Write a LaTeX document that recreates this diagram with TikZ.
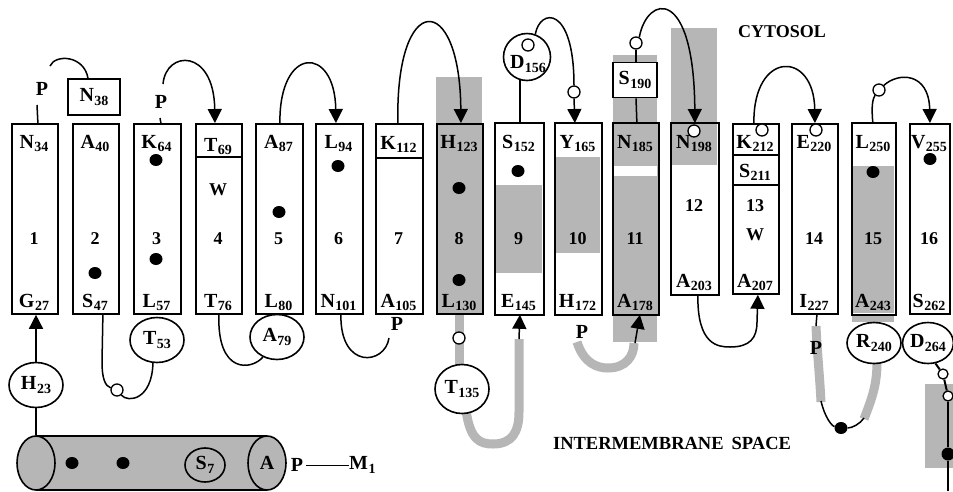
\documentclass[tikz,border=0pt]{standalone}
\usepackage{fontspec}
\setmainfont{Liberation Serif}
\usetikzlibrary{arrows.meta,shapes.geometric,calc}
\definecolor{memgray}{RGB}{182,182,182}
% residue label: letter with a lowered, smaller position number
\newcommand\resl[2]{#1\kern0.5pt\raisebox{-3.5pt}{\fontsize{14}{14}\selectfont #2}}
\begin{document}
\begin{tikzpicture}[x=1pt,y=-1pt,
  tmbox/.style={draw, line width=1.8pt, fill=white, inner sep=0pt, anchor=north west},
  tmopen/.style={tmbox, draw=none},
  lab/.style={font=\fontsize{20}{20}\selectfont\bfseries, inner sep=0pt},
  num/.style={font=\fontsize{18}{18}\selectfont\bfseries, inner sep=0pt, anchor=base},
  ring/.style={ellipse, draw, line width=1.6pt, fill=white, minimum width=54pt, minimum height=45pt, inner sep=0pt, font=\fontsize{20}{20}\selectfont\bfseries},
  lbox/.style={draw, line width=1.6pt, fill=white, inner sep=0pt, font=\fontsize{20}{20}\selectfont\bfseries},
  smallc/.style={circle, draw, line width=1.3pt, fill=white, minimum size=12pt, inner sep=0pt},
  dotb/.style={ellipse, fill=black, minimum width=13pt, minimum height=12pt, inner sep=0pt},
  conn/.style={line width=1.5pt},
  arr/.style={conn, -{Triangle[length=14pt,width=14pt]}},
  gline/.style={line width=9pt, draw=memgray},
  toplab/.style={lab, anchor=base},
]
\useasboundingbox (0,0) rectangle (953,491);
\fill[white] (0,0) rectangle (953,491);

% ---- grey regions outside the helices
\fill[memgray] (436,77) rectangle (482,123);
\fill[memgray] (613,55) rectangle (657,123);
\fill[memgray] (671,28) rectangle (717,123);
\fill[memgray] (613,313) rectangle (657,342);
\fill[memgray] (852,313) rectangle (894,322);
\fill[memgray] (925,384) rectangle (953,468);

% ---- thick grey loop segments
\draw[gline] (459,313) -- (459,366);
\draw[gline] (466,410) .. controls (470,440) and (480,444) .. (493,444) .. controls (512,444) and (519,432) .. (519,412) -- (519,339);
\draw[gline] (577,342) .. controls (584,364) and (598,368) .. (608,368) .. controls (626,368) and (634,356) .. (634,343);
\draw[gline] (816,326) .. controls (817,350) and (820,380) .. (821,402);
\draw[gline] (864,419) .. controls (872,398) and (877,385) .. (877,362);

% ---- transmembrane helices
\node[tmbox, minimum width=46pt, minimum height=190pt] (t1) at (11,123) {};
\node[tmbox, minimum width=46pt, minimum height=190pt] (t2) at (72,123) {};
\node[tmbox, minimum width=47pt, minimum height=190pt] (t3) at (133,123) {};
\node[tmbox, minimum width=46pt, minimum height=190pt] (t4) at (195,123) {};
\node[tmbox, minimum width=47pt, minimum height=190pt] (t5) at (255,123) {};
\node[tmbox, minimum width=47pt, minimum height=190pt] (t6) at (315,123) {};
\node[tmbox, minimum width=47pt, minimum height=190pt] (t7) at (375,123) {};
\node[tmbox, fill=memgray, minimum width=46pt, minimum height=190pt] (t8) at (436,123) {};
\node[tmopen, minimum width=47pt, minimum height=190pt] (t9) at (495,123) {};
\node[tmopen, minimum width=45pt, minimum height=190pt] (t10) at (555,123) {};
\node[tmopen, fill=memgray, minimum width=44pt, minimum height=190pt] (t11) at (613,123) {};
\node[tmopen, minimum width=46pt, minimum height=170pt] (t12) at (671,123) {};
\node[tmbox, minimum width=46pt, minimum height=170pt] (t13) at (732,123) {};
\node[tmbox, minimum width=46pt, minimum height=190pt] (t14) at (791,123) {};
\node[tmopen, minimum width=42pt, minimum height=190pt] (t15) at (852,123) {};
\node[tmbox, minimum width=40pt, minimum height=190pt] (t16) at (909,123) {};

% grey parts inside helices, then their outlines
\fill[memgray] (495,185) rectangle (542,273);
\fill[memgray] (555,157) rectangle (600,253);
\fill[white] (613,166) rectangle (657,176);
\fill[memgray] (671,123) rectangle (717,165);
\fill[memgray] (852,166) rectangle (894,313);
\foreach \n in {t9,t10,t11,t12,t15}
  \draw[line width=1.8pt] (\n.north west) rectangle (\n.south east);

% dividing lines
\draw[line width=1.6pt] ($(t4.north west)+(0,34)$) -- ($(t4.north east)+(0,34)$);
\draw[line width=1.6pt] ($(t7.north west)+(0,35)$) -- ($(t7.north east)+(0,35)$);
\draw[line width=1.6pt] ($(t13.north west)+(0,32)$) -- ($(t13.north east)+(0,32)$);
\draw[line width=1.6pt] ($(t13.north west)+(0,62)$) -- ($(t13.north east)+(0,62)$);

% ---- residue labels, top ends
\node[toplab] (a34) at (34,148) {\resl{N}{34}};
\node[toplab] (a40) at (95,148) {\resl{A}{40}};
\node[toplab] (a64) at (156.5,148) {\resl{K}{64}};
\node[toplab] (a69) at (218,151) {\resl{T}{69}};
\node[toplab] (a87) at (278.5,148) {\resl{A}{87}};
\node[toplab] (a94) at (338.5,148) {\resl{L}{94}};
\node[toplab] (a112) at (398.5,149) {\resl{K}{112}};
\node[toplab] (a123) at (459,148) {\resl{H}{123}};
\node[toplab] (a152) at (518.5,148) {\resl{S}{152}};
\node[toplab] (a165) at (577.5,148) {\resl{Y}{165}};
\node[toplab] (a185) at (635,148) {\resl{N}{185}};
\node[toplab] (a198) at (694,148) {\resl{N}{198}};
\node[toplab] (a212) at (755,148) {\resl{K}{212}};
\node[toplab] (a211) at (755,177) {\resl{S}{211}};
\node[toplab] (a220) at (814,148) {\resl{E}{220}};
\node[toplab] (a250) at (873,148) {\resl{L}{250}};
\node[toplab] (a255) at (929,148) {\resl{V}{255}};

% ---- residue labels, bottom ends
\node[toplab] (b27) at (34,307) {\resl{G}{27}};
\node[toplab] (b47) at (95,307) {\resl{S}{47}};
\node[toplab] (b57) at (156.5,307) {\resl{L}{57}};
\node[toplab] (b76) at (218,307) {\resl{T}{76}};
\node[toplab] (b80) at (278.5,307) {\resl{L}{80}};
\node[toplab] (b101) at (338.5,307) {\resl{N}{101}};
\node[toplab] (b105) at (398.5,307) {\resl{A}{105}};
\node[toplab] (b130) at (459,307) {\resl{L}{130}};
\node[toplab] (b145) at (518.5,307) {\resl{E}{145}};
\node[toplab] (b172) at (577.5,307) {\resl{H}{172}};
\node[toplab] (b178) at (635,307) {\resl{A}{178}};
\node[toplab] (b203) at (694,287) {\resl{A}{203}};
\node[toplab] (b207) at (755,287) {\resl{A}{207}};
\node[toplab] (b227) at (814,307) {\resl{I}{227}};
\node[toplab] (b243) at (873,307) {\resl{A}{243}};
\node[toplab] (b262) at (929,307) {\resl{S}{262}};

% ---- helix numbers and tryptophans
\node[num] (n1) at (34,244) {1};
\node[num] (n2) at (95,244) {2};
\node[num] (n3) at (156.5,244) {3};
\node[num] (n4) at (218,244) {4};
\node[num] (n5) at (278.5,244) {5};
\node[num] (n6) at (338.5,244) {6};
\node[num] (n7) at (398.5,244) {7};
\node[num] (n8) at (459,244) {8};
\node[num] (n9) at (518.5,244) {9};
\node[num] (n10) at (577.5,244) {10};
\node[num] (n11) at (635,244) {11};
\node[num] (n12) at (694,211) {12};
\node[num] (n13) at (755,211) {13};
\node[num] (n14) at (814,244) {14};
\node[num] (n15) at (873,244) {15};
\node[num] (n16) at (929,244) {16};
\node[num] (w4) at (218,195) {W};
\node[num] (w13) at (755,240) {W};

% ---- black dots
\node[dotb] (d2) at (95,273) {};
\node[dotb] (d3a) at (156,160) {};
\node[dotb] (d3b) at (156,259) {};
\node[dotb] (d5) at (279,212) {};
\node[dotb] (d6) at (338,166) {};
\node[dotb] (d8a) at (459,188) {};
\node[dotb] (d8b) at (459,280) {};
\node[dotb] (d9) at (518,171) {};
\node[dotb] (d15) at (873,172) {};
\node[dotb] (d16) at (930,159) {};

% ---- open circles at helix tops
\node[smallc] (c198) at (694,131) {};
\node[smallc] (c212) at (762,130) {};
\node[smallc] (c220) at (816,130) {};

% ---- cytosolic loops
\node[lab] (p1) at (42,89) {P};
\draw[conn] (37,105) -- ($(t1.north)+(3,0)$);
\node[lbox, minimum width=52pt, minimum height=36pt] (n38) at (94,97) {\resl{N}{38}};
\draw[conn] (50,66) .. controls (55,54) and (84,55) .. ($(n38.north)+(-6,0)$);

\node[lab] (p3) at (161,102) {P};
\draw[conn] (160,118) -- ($(t3.north)+(3.5,0)$);
\draw[arr] (163,84) .. controls (166,50) and (214,48) .. ($(t4.north)+(-4,0)$);

\draw[arr] ($(t5.north)+(0.5,0)$) .. controls (279,45) and (335,45) .. ($(t6.north)+(-3.5,0)$);
\draw[arr] ($(t7.north)+(-1.5,0)$) .. controls (395,-10) and (460,-10) .. ($(t8.north)+(1,0)$);

\node[ring, minimum width=47pt, minimum height=47pt] (d156) at (527,57) {};
\node[lab] (d156l) at (528,64) {\resl{D}{156}};
\node[smallc] (d156c) at (528,45) {};
\draw[conn] ($(t9.north)+(0.5,0)$) -- ($(t9.north)+(0.5,-43)$);
\node[smallc] (c165) at (574,92) {};
\draw[conn] (d156.70) .. controls (540,8) and (574,5) .. (c165.north);
\draw[arr] (c165.south) -- ($(t10.north)+(-3.5,0)$);

\node[lbox, minimum width=44pt, minimum height=35pt] (s190) at (635,80) {\resl{S}{190}};
\node[smallc] (c190) at (636,43) {};
\draw[conn] (c190) -- ($(s190.north)+(1,0)$);
\draw[conn] ($(s190.south)+(1,0)$) -- ($(t11.north)+(1,0)$);
\draw[arr] (c190.60) .. controls (647,-5) and (694,-15) .. (t12.north);

\draw[arr] ($(t13.north)+(-2,0)$) .. controls (753,50) and (814,50) .. (t14.north);

\node[smallc] (c250) at (879,90) {};
\draw[conn] ($(t15.north)+(-1,0)$) .. controls (871,106) and (873,98) .. (c250);
\draw[arr] (c250) .. controls (898,72) and (929,72) .. (t16.north);

% ---- intermembrane loops
\node[ring] (h23) at (36,385) {\resl{H}{23}};
\draw[arr] (h23.north) -- (h23.north |- t1.south);

\node[ring] (t53) at (157,340) {\resl{T}{53}};
\node[smallc] (c47) at (117,390) {};
\draw[conn] ($(t2.south)+(7,0)$) -- (102,362) .. controls (102,378) and (105,386) .. (c47);
\draw[conn] (c47) .. controls (128,403) and (152,400) .. (t53.-100);

\node[ring] (a79) at (277,337) {\resl{A}{79}};
\draw[conn] (t4.south) .. controls (217,375) and (252,370) .. (a79.-125);

\node[lab] (p105) at (397,324) {P};
\draw[conn] ($(t6.south)+(1.5,0)$) .. controls (340,370) and (385,365) .. (389,338);

\node[smallc] (c130) at (459,338) {};
\node[ring, minimum height=49pt] (t135) at (462,389) {\resl{T}{135}};
\draw[arr] (519,339) -- ($(t9.south)+(0.5,0)$);

\node[lab] (p172) at (582,332) {P};
\draw[arr] (635,343) -- ($(t11.south)+(4,0)$);

\draw[arr] ($(t12.south)+(3,0)$) .. controls (697,345) and (718,347) .. (730,347) .. controls (750,347) and (757,338) .. (757,322) -- ($(t13.south)+(2,0)$);

\draw[conn] ($(t14.south)+(2,0)$) -- (816,326);
\node[lab] (p227) at (816,348) {P};
\node[dotb] (dot240) at (841,428) {};
\draw[conn] (821,401) .. controls (825,418) and (832,426) .. (dot240);
\draw[conn] (dot240) .. controls (852,428) and (860,424) .. (864,418);
\node[ring, minimum height=41pt] (r240) at (874,343) {\resl{R}{240}};

\node[ring, minimum width=50pt, minimum height=41pt] (d264) at (928,343) {\resl{D}{264}};
\node[smallc, minimum size=10pt] (c264a) at (943,374) {};
\node[smallc, minimum size=10pt] (c264b) at (948,396) {};
\node[dotb, minimum width=13pt, minimum height=13pt] (dot264) at (948,454) {};
\coordinate (tailend) at (948,491);
\draw[line width=2pt] (d264.-70) -- (c264a);
\draw[line width=2pt] (c264a) -- (c264b);
\draw[line width=2pt] (c264b) -- (dot264) -- (tailend);

% ---- N-terminal amphipathic helix
\fill[memgray] (36,436) rectangle (267,490);
\draw[line width=1.6pt] (36,436) -- (267,436) (36,490) -- (267,490);
\node[ellipse, draw, line width=1.6pt, fill=memgray, minimum width=38pt, minimum height=54pt, inner sep=0pt] (capl) at (36,463) {};
\node[ellipse, draw, line width=1.6pt, fill=memgray, minimum width=38pt, minimum height=54pt, inner sep=0pt, font=\fontsize{20}{20}\selectfont\bfseries] (capr) at (267,463) {A};
\draw[conn] (h23.south) -- (h23.south |- capl.north);
\node[dotb] (cd1) at (72,463) {};
\node[dotb] (cd2) at (123,463) {};
\node[ring, fill=memgray, minimum width=40pt, minimum height=34pt] (s7) at (205,465) {\resl{S}{7}};
\node[lab] (pm) at (297,465) {P};
\node[lab, anchor=west] (m1) at (349,465) {\resl{M}{1}};
\draw[line width=1pt] ($(pm.east)+(3,0)$) -- (m1.west);

% ---- compartment names
\node[font=\fontsize{18}{18}\selectfont\bfseries, inner sep=0pt] (cyto) at (782,32) {CYTOSOL};
\node[font=\fontsize{18.5}{18.5}\selectfont\bfseries, inner sep=0pt] (ims) at (672,443) {INTERMEMBRANE\hspace{8pt}SPACE};
\end{tikzpicture}
\end{document}
